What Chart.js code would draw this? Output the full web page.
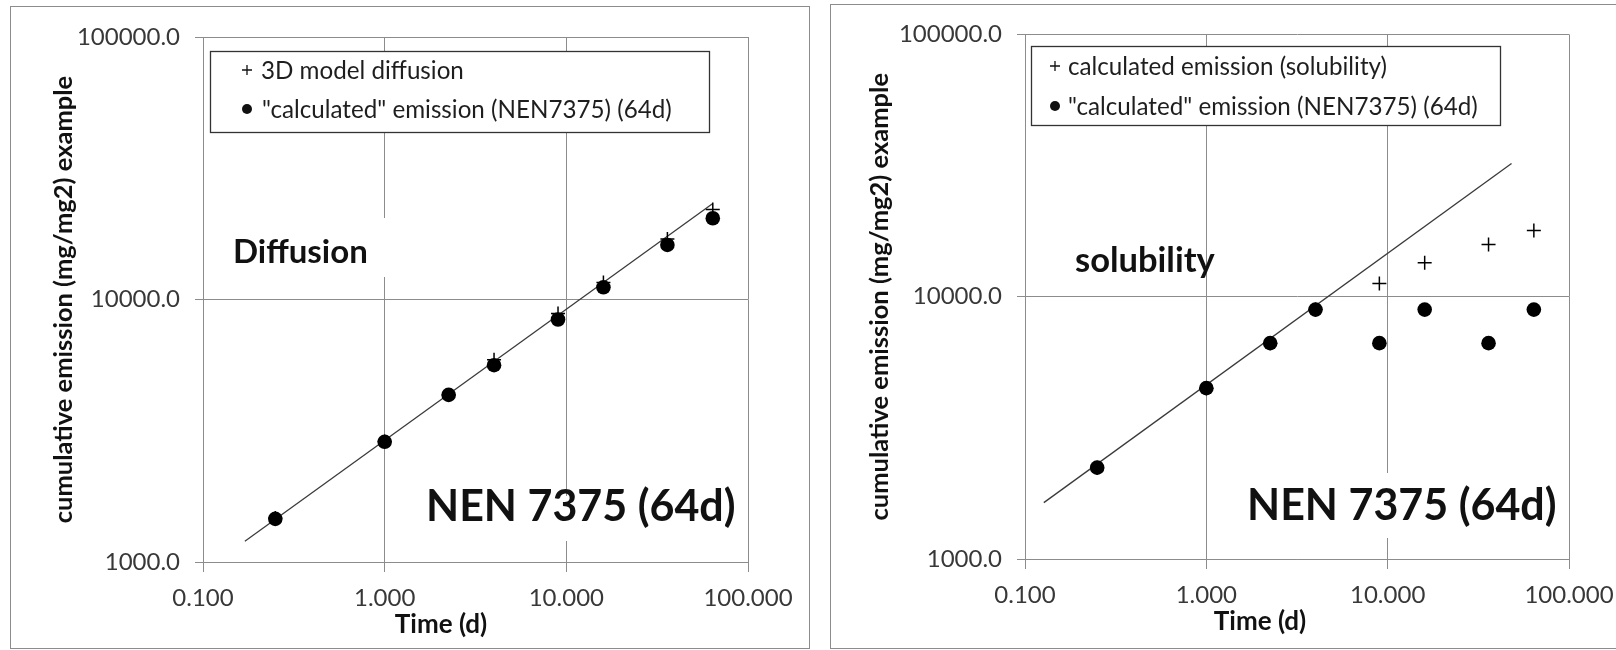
<!DOCTYPE html>
<html><head><meta charset="utf-8">
<script src="https://cdn.jsdelivr.net/npm/chart.js@4.4.0/dist/chart.umd.min.js"></script>
<style>
html,body{margin:0;padding:0;background:#fff;width:1616px;height:650px;overflow:hidden;}
.panel{position:absolute;box-sizing:border-box;border:1px solid #8c8c8c;background:#fff;}
#p1{left:10px;top:6px;width:800px;height:643px;}
#p2{left:830px;top:4px;width:800px;height:645px;}
canvas{position:absolute;left:0;top:0;}
</style></head><body>
<div class="panel" id="p1"><canvas id="c1" width="798" height="641"></canvas></div>
<div class="panel" id="p2"><canvas id="c2" width="798" height="643"></canvas></div>
<script>
// ---- data ----
const timeDays = [0.25, 1, 2.25, 4, 9, 16, 36, 64];
const diffusionModel = [1470, 2880, 4330, 5900, 8850, 11600, 17000, 22000];
const diffusionNEN = [1460, 2870, 4330, 5620, 8390, 11130, 16140, 20400];
const diffusionFitT = [0.17, 64];
const diffusionFitY = [1200, 23200];
const solubilityCalc = [2230, 4480, 6650, 8930, 11230, 13460, 15800, 17900];
const solubilityNEN = [2230, 4480, 6650, 8930, 6650, 8930, 6650, 8930];
const solubilityFitT = [0.127, 48.2];
const solubilityFitY = [1640, 32200];
const xTicks = [0.1, 1, 10, 100];
const yTicks = [1000, 10000, 100000];
const labelsLeft = ['"calculated" emission (NEN7375) (64d)', '3D model diffusion'];
const labelsRight = ['"calculated" emission (NEN7375) (64d)', 'calculated emission (solubility)'];

const FONT = 'Lato';
const pts = (xs, ys) => xs.map((x, i) => ({x: x, y: ys[i]}));

const notesPlugin = {
  id: 'notes',
  beforeDatasetsDraw(chart, args, o) {
    const ctx = chart.ctx;
    const ox = o.origin[0], oy = o.origin[1];
    ctx.save();
    ctx.fillStyle = '#fff';
    o.boxes.forEach(b => ctx.fillRect(b[0]-ox, b[1]-oy, b[2]-b[0], b[3]-b[1]));
    const L = o.legend;
    ctx.fillRect(L.box[0]-ox, L.box[1]-oy, L.box[2]-L.box[0], L.box[3]-L.box[1]);
    ctx.strokeStyle = '#333'; ctx.lineWidth = 1.3;
    ctx.strokeRect(L.box[0]-ox+0.5, L.box[1]-oy+0.5, L.box[2]-L.box[0], L.box[3]-L.box[1]);
    ctx.font = L.size + 'px ' + FONT;
    ctx.textBaseline = 'middle'; ctx.textAlign = 'left';
    L.rows.forEach(r => {
      const ds = chart.data.datasets[r.ds];
      ctx.fillStyle = '#111'; ctx.strokeStyle = '#111';
      if (r.mark === 'cross') {
        ctx.lineWidth = 1.3; ctx.beginPath();
        ctx.moveTo(r.x-ox-5, r.y-oy); ctx.lineTo(r.x-ox+5, r.y-oy);
        ctx.moveTo(r.x-ox, r.y-oy-5); ctx.lineTo(r.x-ox, r.y-oy+5); ctx.stroke();
      } else {
        ctx.beginPath(); ctx.arc(r.x-ox, r.y-oy, 5, 0, Math.PI*2); ctx.fill();
      }
      ctx.fillStyle = '#1e1e1e';
      ctx.fillText(ds.label, r.tx-ox, r.y-oy+1);
    });
    ctx.fillStyle = '#111'; ctx.textBaseline = 'alphabetic';
    o.labels.forEach(l => {
      ctx.font = 'bold ' + l.size + 'px ' + FONT;
      ctx.fillText(l.text, l.x-ox, l.y-oy);
    });
    ctx.font = 'bold 26px ' + FONT; ctx.textAlign = 'center'; ctx.textBaseline = 'middle';
    ctx.fillStyle = '#111';
    ctx.fillText(o.xTitle.text, o.xTitle.x-ox, o.xTitle.y-oy);
    ctx.restore();
  }
};

function makeChart(id, sets, fit, yWidth, xHeight, pad, yTitlePad, notes) {
  const gridCol = '#8c8c8c';
  return new Chart(document.getElementById(id), {
    type: 'scatter',
    data: {
      datasets: [
        {label: sets[0].label, data: sets[0].data, pointStyle: 'circle', pointRadius: 7.3, pointHoverRadius: 7.3,
         backgroundColor: '#000', borderColor: '#000', borderWidth: 0},
        {label: sets[1].label, data: sets[1].data, pointStyle: 'cross', pointRadius: 7, pointHoverRadius: 7,
         borderColor: '#000', borderWidth: 1.5, backgroundColor: '#000'},
        {label: 'fit', data: fit, showLine: true, pointRadius: 0, borderColor: '#3a3a3a', borderWidth: 1.3, fill: false}
      ]
    },
    options: {
      responsive: false, animation: false,
      layout: {padding: pad},
      plugins: {legend: {display: false}, tooltip: {enabled: false}, notes: notes},
      scales: {
        x: {
          type: 'logarithmic', min: 0.1, max: 100,
          afterBuildTicks: s => { s.ticks = xTicks.map(v => ({value: v})); },
          afterFit: s => { s.height = xHeight; },
          grid: {color: gridCol, lineWidth: 1, tickLength: 10, drawTicks: true},
          border: {color: gridCol, width: 1},
          ticks: {callback: v => Number(v).toFixed(3), font: {family: FONT, size: 24}, color: '#383838',
                  padding: 12, maxRotation: 0, autoSkip: false}
        },
        y: {
          type: 'logarithmic', min: 1000, max: 100000,
          afterBuildTicks: s => { s.ticks = yTicks.map(v => ({value: v})); },
          afterFit: s => { s.width = yWidth; },
          grid: {color: gridCol, lineWidth: 1, tickLength: 8, drawTicks: true},
          border: {color: gridCol, width: 1},
          ticks: {callback: v => Number(v).toFixed(1), font: {family: FONT, size: 24}, color: '#383838',
                  padding: 15, autoSkip: false},
          title: {display: true, text: 'cumulative emission (mg/mg2) example',
                  font: {family: FONT, size: 25.5, weight: 'bold'}, color: '#111', padding: {top: yTitlePad, bottom: 0}}
        }
      }
    },
    plugins: [notesPlugin]
  });
}

makeChart('c1',
  [{label: labelsLeft[0], data: pts(timeDays, diffusionNEN)}, {label: labelsLeft[1], data: pts(timeDays, diffusionModel)}],
  pts(diffusionFitT, diffusionFitY), 192, 86, {left: 0, right: 61, top: 30, bottom: 0}, 37,
  {origin: [11, 7],
   legend: {box: [210, 51, 709, 132], size: 24.2,
            rows: [{ds: 1, mark: 'cross', x: 247, y: 70, tx: 261}, {ds: 0, mark: 'dot', x: 247, y: 109, tx: 262}]},
   boxes: [[226, 218, 392, 277], [420, 496, 740, 541]],
   labels: [{text: 'Diffusion', x: 233, y: 263, size: 33}, {text: 'NEN 7375 (64d)', x: 426, y: 521, size: 43}],
   xTitle: {text: 'Time (d)', x: 441, y: 625}});

makeChart('c2',
  [{label: labelsRight[0], data: pts(timeDays, solubilityNEN)}, {label: labelsRight[1], data: pts(timeDays, solubilityCalc)}],
  pts(solubilityFitT, solubilityFitY), 194, 89, {left: 0, right: 60, top: 28, bottom: 0}, 33,
  {origin: [831, 5],
   legend: {box: [1031, 46, 1500, 125], size: 24.2,
            rows: [{ds: 1, mark: 'cross', x: 1055, y: 66, tx: 1068}, {ds: 0, mark: 'dot', x: 1055, y: 106, tx: 1068}]},
   boxes: [[1240, 473, 1560, 538]],
   labels: [{text: 'solubility', x: 1075, y: 272, size: 34.5}, {text: 'NEN 7375 (64d)', x: 1247, y: 520, size: 43}],
   xTitle: {text: 'Time (d)', x: 1260, y: 622}});
</script>
</body></html>
